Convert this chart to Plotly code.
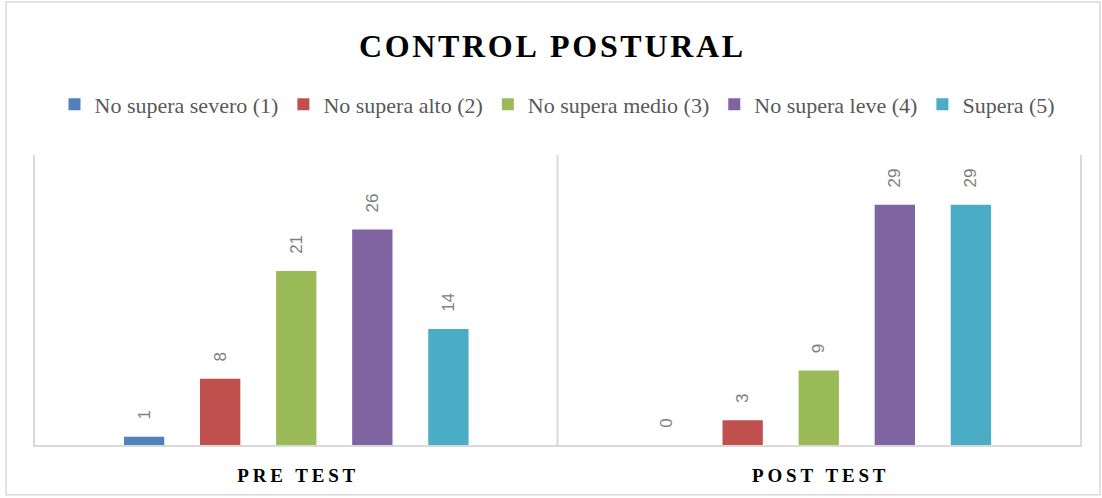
import plotly.graph_objects as go

categories = ["PRE TEST", "POST TEST"]
series_names = ["No supera severo (1)", "No supera alto (2)", "No supera medio (3)",
                "No supera leve (4)", "Supera (5)"]
severo = [1, 0]
alto = [8, 3]
medio = [21, 9]
leve = [26, 29]
supera = [14, 29]
colors = ["#4F81BD", "#C0504D", "#9BBB59", "#8064A2", "#4BACC6"]

series_values = [severo, alto, medio, leve, supera]

def spaced(s, sep="\u2009"):
    return sep.join(list(s))

tick_labels = [spaced(c) for c in categories]

fig = go.Figure()
for name, vals, col in zip(series_names, series_values, colors):
    fig.add_trace(go.Bar(
        x=categories, y=vals, name=name,
        marker=dict(color=col, line=dict(width=0)),
        texttemplate="\u00a0\u00a0\u00a0%{y}",
        textposition="outside", textangle=-90,
        textfont=dict(family="Liberation Sans", size=17, color="#808080"),
        cliponaxis=False,
    ))

W, H = 1102, 498
L, R, T, B = 35, 1080, 155, 447
pw, ph = R - L, B - T

def px(x):
    return (x - L) / pw

def py(y):
    return (B - y) / ph

fig.update_layout(
    width=W, height=H,
    margin=dict(l=L, r=W - R, t=T, b=H - B, pad=0),
    paper_bgcolor="white", plot_bgcolor="white",
    barmode="group", bargap=0.272, bargroupgap=0.47,
    title=dict(text="<b>" + spaced("CONTROL POSTURAL", "\u200a") + "</b>",
               x=0.5, xanchor="center", y=1 - 46 / H, yanchor="middle",
               font=dict(family="Liberation Serif", size=32, color="#000000")),
    legend=dict(orientation="h", x=0.5, xanchor="center", y=py(104), yanchor="middle",
                font=dict(family="Liberation Serif", size=22, color="#595959"),
                itemwidth=30, tracegroupgap=0, bgcolor="rgba(0,0,0,0)"),
    showlegend=True,
    xaxis=dict(tickmode="array", tickvals=categories, ticktext=tick_labels,
               tickfont=dict(family="Liberation Serif", size=19, color="#000000", weight="bold"),
               showline=True, linecolor="#D9D9D9", linewidth=2,
               showgrid=False, ticks="", ticklen=0, ticklabelstandoff=12),
    yaxis=dict(range=[0, 35], showticklabels=False, showgrid=False, zeroline=False,
               showline=True, linecolor="#D9D9D9", linewidth=2, mirror=True, ticks=""),
    shapes=[
        dict(type="line", xref="x", yref="paper", x0=0.5, x1=0.5, y0=0, y1=1,
             line=dict(color="#D9D9D9", width=2)),
        dict(type="rect", xref="paper", yref="paper",
             x0=px(6), x1=px(1100), y0=py(1), y1=py(497),
             line=dict(color="#D9D9D9", width=1.5)),
    ],
)

fig.write_html("out.html")
